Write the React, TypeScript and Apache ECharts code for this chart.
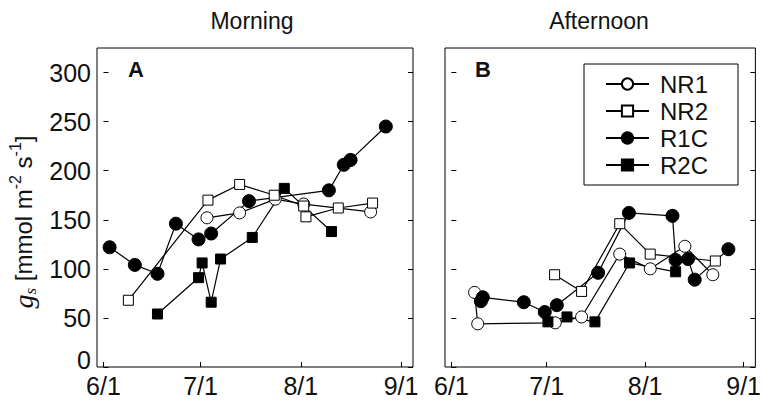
import React, { useEffect, useRef } from "react";
import * as echarts from "echarts";

// x positions are days after June 1
const monthTicks = [0, 30, 61, 92];
const monthLabels = ["6/1", "7/1", "8/1", "9/1"];
const gsTicks = [0, 50, 100, 150, 200, 250, 300];
const seriesNames = ["NR1", "NR2", "R1C", "R2C"];

// Morning stomatal conductance
const nr1AmDay = [32.0, 42.1, 53.1, 61.9, 82.6];
const nr1Am = [152, 157, 171, 166, 158];
const nr2AmDay = [7.7, 32.3, 42.1, 52.8, 61.9, 62.6, 72.6, 83.2];
const nr2Am = [68, 170, 186, 175, 164, 153, 162, 167];
const r1cAmDay = [1.9, 9.7, 16.7, 22.4, 29.4, 33.3, 45.0, 69.7, 74.3, 76.4, 87.3];
const r1cAm = [122, 104, 95, 146, 130, 136, 169, 180, 206, 211, 245];
const r2cAmDay = [16.7, 29.4, 30.5, 33.3, 36.2, 46.0, 55.9, 70.5];
const r2cAm = [54, 91, 106, 66, 110, 132, 182, 138];

// Afternoon stomatal conductance
const nr1PmDay = [7.3, 8.3, 32.7, 41.0, 53.0, 62.6, 73.5, 82.3];
const nr1Pm = [76, 44, 45, 51, 115, 100, 123, 94];
const nr2PmDay = [32.5, 41.0, 53.0, 62.6, 83.1];
const nr2Pm = [94, 77, 146, 115, 108];
const r1cPmDay = [9.3, 9.9, 22.8, 29.4, 33.2, 46.2, 55.9, 69.6, 70.6, 74.5, 76.6, 87.2];
const r1cPm = [67, 71, 66, 56, 63, 96, 157, 154, 109, 110, 89, 120];
const r2cPmDay = [30.4, 36.4, 45.2, 56.1, 70.6];
const r2cPm = [46, 51, 46, 106, 97];

const FONT = "'Liberation Sans', Arial, Helvetica, sans-serif";
const SERIF = "'Liberation Serif', 'DejaVu Serif', serif";
const INK = "#111";

const pair = (days: number[], vals: number[]) => days.map((d, i) => [d, vals[i]]);

const styles: Record<string, { symbol: string; size: number; fill: string }> = {
  NR1: { symbol: "circle", size: 12, fill: "#fff" },
  NR2: { symbol: "rect", size: 10, fill: "#fff" },
  R1C: { symbol: "circle", size: 13, fill: "#000" },
  R2C: { symbol: "rect", size: 10, fill: "#000" },
};

function lineSeries(name: string, data: number[][], panel: number) {
  const s = styles[name];
  return {
    type: "line",
    name,
    data,
    xAxisIndex: panel,
    yAxisIndex: panel,
    symbol: s.symbol,
    symbolSize: s.size,
    showSymbol: true,
    showAllSymbol: true,
    lineStyle: { color: "#000", width: 1.2 },
    itemStyle: { color: s.fill, borderColor: "#000", borderWidth: 1 },
    emphasis: { disabled: true },
    silent: true,
  };
}

export default function App() {
  const ref = useRef<HTMLDivElement>(null);

  useEffect(() => {
    const chart = echarts.init(ref.current!, null, { renderer: "svg" });

    const grids = [
      { left: 97, top: 48, width: 316, height: 319 },
      { left: 445, top: 48, width: 312, height: 319 },
    ];

    const xAxes = grids.map((_, i) => ({
      type: "value",
      gridIndex: i,
      min: -2,
      max: 95.7,
      axisLine: { show: false },
      splitLine: { show: false },
      axisTick: {
        inside: true,
        length: 5,
        customValues: monthTicks,
        lineStyle: { color: "#000" },
      },
      axisLabel: {
        customValues: monthTicks,
        formatter: (v: number) => monthLabels[monthTicks.indexOf(v)] ?? "",
        fontSize: 25,
        lineHeight: 20,
        fontFamily: FONT,
        color: INK,
        margin: 9,
      },
    }));

    const yLeft = grids.map((_, i) => ({
      type: "value",
      gridIndex: i,
      min: 0,
      max: 325,
      position: "left",
      axisLine: { show: false },
      splitLine: { show: false },
      axisTick: {
        inside: true,
        length: 5,
        customValues: gsTicks,
        lineStyle: { color: "#000" },
      },
      axisLabel: {
        show: i === 0,
        customValues: gsTicks,
        // the zero label sits a little above the corner, clear of the date labels
        formatter: (v: number) => (v === 0 ? "{z|0}" : String(v)),
        fontSize: 25,
        lineHeight: 16,
        fontFamily: FONT,
        color: INK,
        margin: 6,
        rich: {
          z: {
            fontSize: 25,
            lineHeight: 16,
            fontFamily: FONT,
            color: INK,
            padding: [0, 0, 14, 0],
          },
        },
      },
    }));

    const yRight = grids.map((_, i) => ({
      type: "value",
      gridIndex: i,
      min: 0,
      max: 325,
      position: "right",
      axisLine: { show: false },
      splitLine: { show: false },
      axisTick: {
        inside: true,
        length: 5,
        customValues: gsTicks,
        lineStyle: { color: "#000" },
      },
      axisLabel: { show: false },
    }));

    const series = [
      lineSeries("NR1", pair(nr1AmDay, nr1Am), 0),
      lineSeries("NR2", pair(nr2AmDay, nr2Am), 0),
      lineSeries("R1C", pair(r1cAmDay, r1cAm), 0),
      lineSeries("R2C", pair(r2cAmDay, r2cAm), 0),
      lineSeries("NR1", pair(nr1PmDay, nr1Pm), 1),
      lineSeries("NR2", pair(nr2PmDay, nr2Pm), 1),
      lineSeries("R1C", pair(r1cPmDay, r1cPm), 1),
      lineSeries("R2C", pair(r2cPmDay, r2cPm), 1),
    ];

    const titleText = (text: string, x: number) => ({
      type: "text",
      x,
      y: 21,
      style: {
        text,
        fontSize: 23,
        fontFamily: FONT,
        fill: INK,
        align: "center",
        verticalAlign: "middle",
      },
    });

    const panelTag = (text: string, x: number) => ({
      type: "text",
      x,
      y: 69,
      style: {
        text,
        fontSize: 22,
        fontWeight: "bold",
        fontFamily: FONT,
        fill: INK,
        align: "left",
        verticalAlign: "middle",
      },
    });

    chart.setOption({
      animation: false,
      grid: grids.map((g) => ({
        ...g,
        show: true,
        borderColor: "#000",
        borderWidth: 1,
        backgroundColor: "transparent",
      })),
      xAxis: xAxes,
      yAxis: [...yLeft, ...yRight],
      legend: {
        data: seriesNames,
        orient: "vertical",
        left: 584,
        top: 64,
        itemWidth: 43,
        itemHeight: 14,
        itemGap: 3,
        padding: [8, 30, 8, 21],
        borderColor: "#000",
        borderWidth: 1,
        backgroundColor: "#fff",
        selectedMode: false,
        textStyle: {
          fontSize: 24,
          fontFamily: FONT,
          color: INK,
          lineHeight: 24,
          padding: [0, 0, 0, 6],
        },
      },
      graphic: [
        titleText("Morning", 252),
        titleText("Afternoon", 599),
        panelTag("A", 128),
        panelTag("B", 475),
        {
          type: "text",
          x: 23,
          y: 222,
          rotation: Math.PI / 2,
          style: {
            text: "{g|g}{s|s} [mmol m{p|-2} s{p|-1}]",
            fontSize: 24,
            fontFamily: FONT,
            fill: INK,
            align: "center",
            verticalAlign: "middle",
            lineHeight: 32,
            rich: {
              g: {
                fontSize: 28,
                fontStyle: "italic",
                fontFamily: SERIF,
                fill: INK,
                lineHeight: 32,
              },
              s: {
                fontSize: 17,
                fontStyle: "italic",
                fontFamily: SERIF,
                fill: INK,
                verticalAlign: "bottom",
                lineHeight: 32,
              },
              p: {
                fontSize: 16,
                fontFamily: FONT,
                fill: INK,
                verticalAlign: "top",
                lineHeight: 32,
              },
            },
          },
        },
      ],
      series,
    });

    return () => chart.dispose();
  }, []);

  return (
    <div
      ref={ref}
      style={{ position: "fixed", left: 0, top: 0, width: 764, height: 408, background: "#fff" }}
    />
  );
}
